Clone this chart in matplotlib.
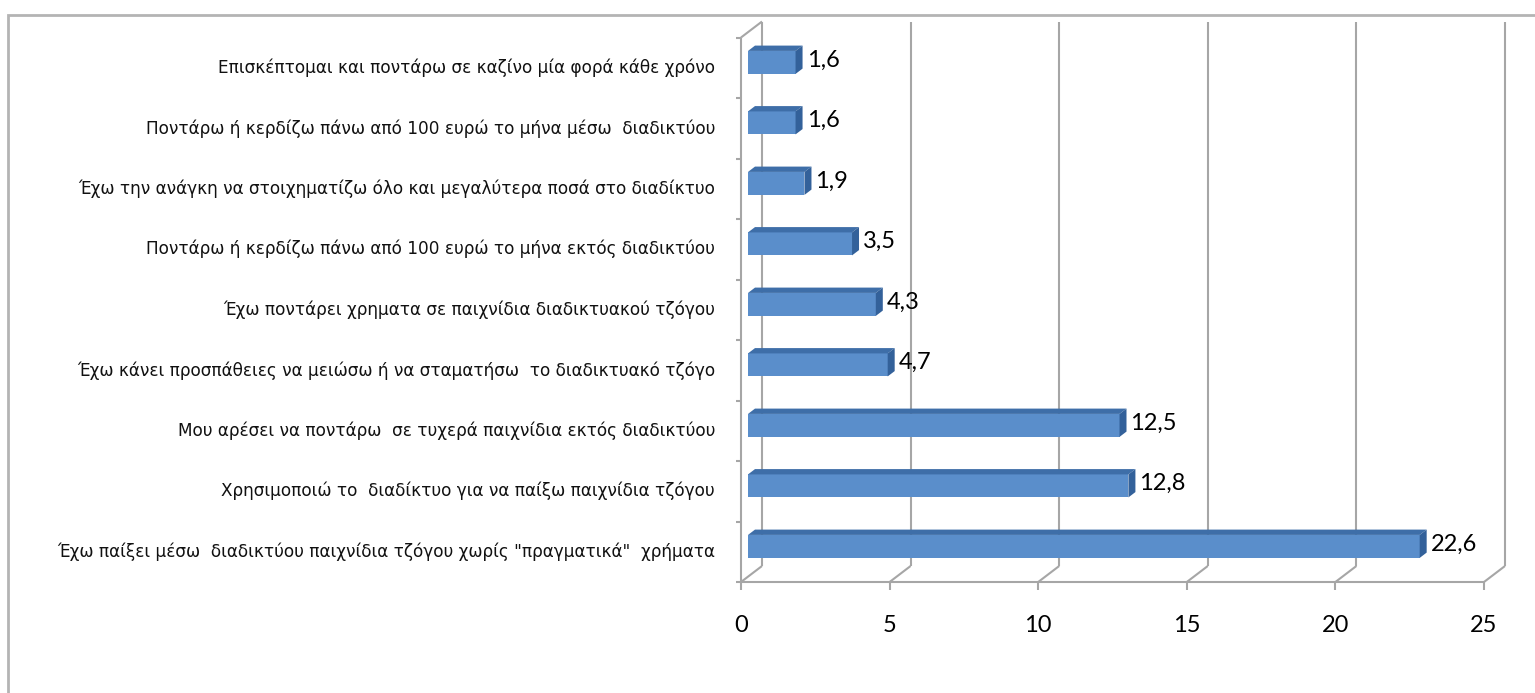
import matplotlib
matplotlib.use("Agg")
import matplotlib.pyplot as plt
from matplotlib.patches import Rectangle

# data (top of chart first)
labels = [
    "Επισκέπτομαι και ποντάρω σε καζίνο μία φορά κάθε χρόνο",
    "Ποντάρω ή κερδίζω πάνω από 100 ευρώ το μήνα μέσω  διαδικτύου",
    "Έχω την ανάγκη να στοιχηματίζω όλο και μεγαλύτερα ποσά στο διαδίκτυο",
    "Ποντάρω ή κερδίζω πάνω από 100 ευρώ το μήνα εκτός διαδικτύου",
    "Έχω ποντάρει χρηματα σε παιχνίδια διαδικτυακού τζόγου",
    "Έχω κάνει προσπάθειες να μειώσω ή να σταματήσω  το διαδικτυακό τζόγο",
    "Μου αρέσει να ποντάρω  σε τυχερά παιχνίδια εκτός διαδικτύου",
    "Χρησιμοποιώ το  διαδίκτυο για να παίξω παιχνίδια τζόγου",
    "Έχω παίξει μέσω  διαδικτύου παιχνίδια τζόγου χωρίς \"πραγματικά\"  χρήματα",
]
values = [1.6, 1.6, 1.9, 3.5, 4.3, 4.7, 12.5, 12.8, 22.6]
xticks = [0, 5, 10, 15, 20, 25]

W, H = 1535, 693
fig = plt.figure(figsize=(W / 100, H / 100), dpi=100)

# front plane of the 3d box, in pixels
x0, x1 = 741, 1484
ytop, ybot = 37.5, 582
ax = fig.add_axes([x0 / W, (H - ybot) / H, (x1 - x0) / W, (ybot - ytop) / H])
n = len(values)
ax.set_xlim(0, 25)
ax.set_ylim(-0.5, n - 0.5)
ax.axis("off")

# depth of the box (pixels) converted to data units
px_x = (x1 - x0) / 25
px_y = (ybot - ytop) / n
DX = 21 / px_x
DY = 16 / px_y


def P(x, y, f):
    return x + f * DX, y + f * DY


grid_c = "#a6a6a6"
lw = 1.5
kw = dict(color=grid_c, lw=lw, clip_on=False, solid_capstyle="butt")

# back wall gridlines + floor diagonals
for t in xticks:
    bx, by = P(t, -0.5, 1)
    tx, ty = P(t, n - 0.5, 1)
    ax.plot([bx, tx], [by, ty], **kw)
    ax.plot([t, bx], [-0.5, by], **kw)
    ax.plot([t, t], [-0.5, -0.5 - 8 / px_y], **kw)
# front floor line and left wall
ax.plot([0, 25], [-0.5, -0.5], **kw)
ax.plot([0, 0], [-0.5, n - 0.5], **kw)
lx, ly = P(0, n - 0.5, 1)
ax.plot([0, lx], [n - 0.5, ly], **kw)
for k in range(n + 1):
    ax.plot([0, -5 / px_x], [k - 0.5, k - 0.5], **kw)

# 3d bars
front_c = "#5a8ecb"
top_c = "#3e6ea8"
side_c = "#33619a"
bh = 0.38
f1, f2 = 1 / 3, 2 / 3
for i, (lab, v) in enumerate(zip(labels[::-1], values[::-1])):
    yb, yt = i - bh / 2, i + bh / 2
    pts = [P(0, yb, f1), P(v, yb, f1), P(v, yt, f1), P(0, yt, f1)]
    ax.fill(*zip(*pts), color=front_c, lw=0, clip_on=False, zorder=3)
    pts = [P(0, yt, f1), P(v, yt, f1), P(v, yt, f2), P(0, yt, f2)]
    ax.fill(*zip(*pts), color=top_c, lw=0, clip_on=False, zorder=3)
    pts = [P(v, yb, f1), P(v, yt, f1), P(v, yt, f2), P(v, yb, f2)]
    ax.fill(*zip(*pts), color=side_c, lw=0, clip_on=False, zorder=3)
    lx, ly = P(v, i, f2)
    ax.text(lx + 4 / px_x, ly - 3 / px_y, f"{v:.1f}".replace(".", ","),
            ha="left", va="center", fontsize=17, family="Lato", zorder=4)
    ax.text(-26 / px_x, i, lab, ha="right", va="center", fontsize=12.2,
            family="DejaVu Sans", color="#111111")

for t in xticks:
    ax.text(t, -0.5 - 44 / px_y, str(t), ha="center", va="center",
            fontsize=17, family="Lato")

# chart frame
fig.patches.append(Rectangle((8 / W, -0.1), 1.2, (H - 15) / H + 0.1,
                             transform=fig.transFigure, fill=False,
                             ec="#b4b4b4", lw=2))

fig.savefig("out.png", dpi=100, facecolor="white")
